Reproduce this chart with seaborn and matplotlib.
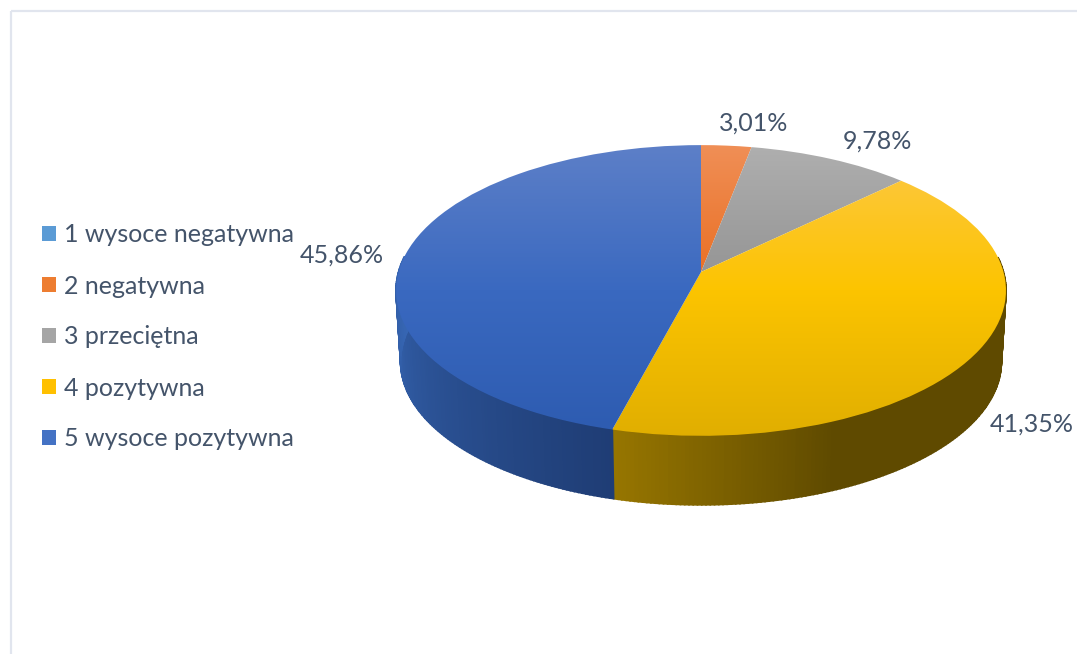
"""
plot.py

Tilted 3D style pie chart of opinion shares, saved to out.png.
"""

import numpy as np
import matplotlib
matplotlib.use("Agg")
import matplotlib.pyplot as plt
from matplotlib.patches import Patch, Rectangle
from matplotlib.transforms import Transform
import seaborn as sns

CATEGORIES = ["1 wysoce negatywna", "2 negatywna", "3 przeciętna",
              "4 pozytywna", "5 wysoce pozytywna"]
SHARES = [0.0, 3.01, 9.78, 41.35, 45.86]

LEGEND_COLOURS = ["#5B9BD5", "#ED7D31", "#A5A5A5", "#FFC000", "#4472C4"]
TOP_COLOURS = [["#7fb0e0", "#5B9BD5", "#4a8ac8"],
               ["#f09058", "#e96c1f", "#d8600f"],
               ["#b0b0b0", "#929292", "#888888"],
               ["#fdc84a", "#fcc400", "#e0ae00"],
               ["#5e80c8", "#3a69c0", "#2d5bb0"]]
WALL_COLOURS = [["#3a6ea5", "#3a6ea5"],
                ["#8a4a15", "#8a4a15"],
                ["#666666", "#666666"],
                ["#5f4a00", "#5f4a00", "#5f4a00", "#5f4a00", "#967500"],
                ["#1f3d75", "#3767b5", "#3767b5"]]

# Where the labels sit, in pixels of the 1077x654 picture
LABEL_SPOTS = [None, (754, 123), (877, 141), (990, 424), (342, 255)]

FONT = "Lato"
TEXT_COLOUR = "#44546A"
CENTRE_X = 701
TILT = 0.127
TOP_APEX_Y = 272
BOTTOM_APEX_Y = 343.5
BOTTOM_SCALE = 0.985


# ====================
class TiltTransform(Transform):
    """Project the unit circle of the pie onto the picture, with perspective."""

    input_dims = 2
    output_dims = 2

    def __init__(self, apex_y: float, scale: float = 1.0):
        super().__init__()
        self.apex_y = apex_y
        self.scale = scale

    def transform_non_affine(self, values):
        values = np.asarray(values)
        depth = 1 + TILT * values[:, 1]
        return np.column_stack([
            CENTRE_X + 302.5 * self.scale * values[:, 0] / depth,
            self.apex_y - 143 * self.scale * values[:, 1] / depth])


# ====================
def draw_walls(ax, top_tilt: TiltTransform, bottom_tilt: TiltTransform):
    """Draw the side of the disc as thin strips, slice by slice."""

    edges = np.cumsum([0] + SHARES) / sum(SHARES) * 2 * np.pi
    for i, stops in enumerate(WALL_COLOURS):
        if SHARES[i] == 0:
            continue
        n_strips = int(SHARES[i] * 5) + 2
        angles = np.linspace(edges[i], edges[i + 1], n_strips + 1)
        colours = sns.blend_palette(stops, n_strips)
        for j in range(n_strips):
            if np.cos(angles[j]) > 0.1 and np.cos(angles[j + 1]) > 0.1:
                continue
            arc = np.column_stack([np.sin(angles[j:j + 2]),
                                   np.cos(angles[j:j + 2])])
            outline = np.vstack([top_tilt.transform(arc),
                                 bottom_tilt.transform(arc)[::-1]])
            ax.fill(outline[:, 0], outline[:, 1], color=colours[j],
                    linewidth=1.2, zorder=1)


# ====================
def main():

    sns.set_theme(style="white")
    plt.rcParams['font.family'] = [FONT, 'DejaVu Sans']

    fig = plt.figure(figsize=(10.77, 6.54), dpi=100)
    ax = fig.add_axes([0, 0, 1, 1])

    # Top face comes from the pie itself, then gets bent into perspective
    wedges, _ = ax.pie(SHARES, startangle=90, counterclock=False)
    top_tilt = TiltTransform(TOP_APEX_Y)
    bottom_tilt = TiltTransform(BOTTOM_APEX_Y, BOTTOM_SCALE)

    draw_walls(ax, top_tilt, bottom_tilt)

    shade = np.linspace(0, 1, 256)[:, None]
    for i, wedge in enumerate(wedges):
        wedge.set_transform(top_tilt + ax.transData)
        wedge.set_visible(False)
        if SHARES[i] == 0:
            continue
        cmap = sns.blend_palette(TOP_COLOURS[i], as_cmap=True)
        image = ax.imshow(shade, cmap=cmap, aspect="auto", zorder=2,
                          extent=(390, 1012, 440, 140))
        image.set_clip_path(wedge)

    # Pixel coordinates from here on
    ax.set_aspect("auto")
    ax.set_xlim(0, 1077)
    ax.set_ylim(654, 0)
    ax.set_axis_off()

    ax.add_patch(Rectangle((11, 11), 1200, 800, fill=False,
                           edgecolor="#E1E5EE", linewidth=1.6))

    for share, spot in zip(SHARES, LABEL_SPOTS):
        if spot is None:
            continue
        ha = "left" if spot[0] > 980 else "center"
        ax.text(spot[0], spot[1], f"{share:.2f}%".replace(".", ","),
                color=TEXT_COLOUR, fontsize=18, ha=ha, va="center")

    handles = [Patch(facecolor=c, edgecolor="none") for c in LEGEND_COLOURS]
    ax.legend(handles, CATEGORIES, loc="center left",
              bbox_to_anchor=(42 / 1077, 1 - 337 / 654),
              bbox_transform=ax.transAxes, frameon=False, fontsize=18,
              labelcolor=TEXT_COLOUR, handlelength=0.56, handleheight=0.56,
              handletextpad=0.32, labelspacing=1.12, borderaxespad=0,
              borderpad=0)

    fig.savefig("out.png", dpi=100)


# ====================
if __name__ == "__main__":

    main()
